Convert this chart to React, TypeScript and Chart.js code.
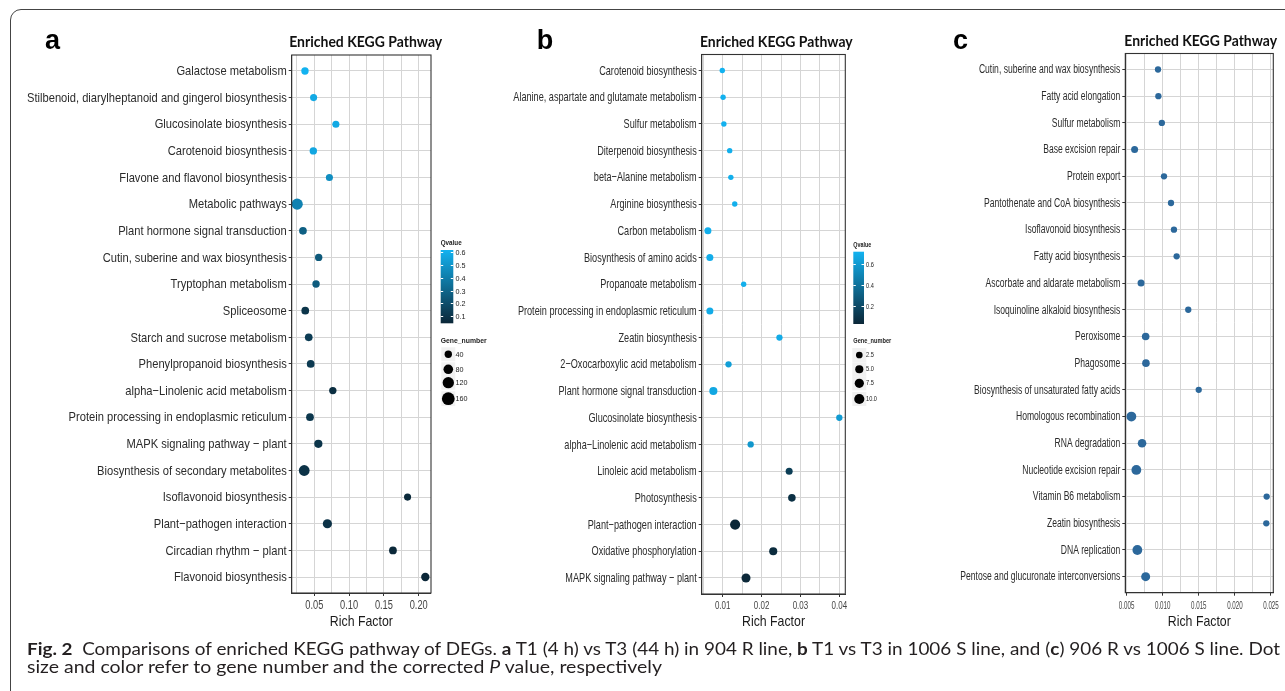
import React, { useEffect, useLayoutEffect, useRef } from 'react';
import { Chart, registerables } from 'chart.js';

Chart.register(...registerables);

const W = 1285;
const H = 691;
const SANS = '"Liberation Sans", Arial, sans-serif';
const GRID = '#d5d5d5';
const LOW = [11, 39, 56];
const HIGH = [18, 178, 240];
const C_COLOR = '#2c689b';

// ---------- Panel a ----------
const aPathways = [
  'Galactose metabolism',
  'Stilbenoid, diarylheptanoid and gingerol biosynthesis',
  'Glucosinolate biosynthesis',
  'Carotenoid biosynthesis',
  'Flavone and flavonol biosynthesis',
  'Metabolic pathways',
  'Plant hormone signal transduction',
  'Cutin, suberine and wax biosynthesis',
  'Tryptophan metabolism',
  'Spliceosome',
  'Starch and sucrose metabolism',
  'Phenylpropanoid biosynthesis',
  'alpha\u2212Linolenic acid metabolism',
  'Protein processing in endoplasmic reticulum',
  'MAPK signaling pathway \u2212 plant',
  'Biosynthesis of secondary metabolites',
  'Isoflavonoid biosynthesis',
  'Plant\u2212pathogen interaction',
  'Circadian rhythm \u2212 plant',
  'Flavonoid biosynthesis',
];
const aRichFactor = [0.0366, 0.049, 0.081, 0.0486, 0.0717, 0.0254, 0.0337, 0.0563, 0.0525, 0.037, 0.042, 0.0448, 0.0766, 0.0438, 0.0558, 0.0355, 0.184, 0.0688, 0.163, 0.2095];
const aGeneNumber = [40, 36, 36, 40, 36, 116, 45, 40, 40, 45, 45, 45, 40, 45, 53, 106, 36, 71, 46, 56];
const aQvalue = [0.618, 0.58, 0.58, 0.57, 0.47, 0.42, 0.28, 0.25, 0.26, 0.1, 0.13, 0.12, 0.07, 0.11, 0.1, 0.09, 0.05, 0.09, 0.05, 0.043];
const aMajorTicks = [0.05, 0.1, 0.15, 0.2];
const aMajorLabels = ['0.05', '0.10', '0.15', '0.20'];
const aMinorTicks = [0.025, 0.075, 0.125, 0.175];
const aQLegendTicks = [0.1, 0.2, 0.3, 0.4, 0.5, 0.6];
const aQLegendLabels = ['0.1', '0.2', '0.3', '0.4', '0.5', '0.6'];
const aGeneLegend = [40, 80, 120, 160];
const aGeneLegendLabels = ['40', '80', '120', '160'];

// ---------- Panel b ----------
const bPathways = [
  'Carotenoid biosynthesis',
  'Alanine, aspartate and glutamate metabolism',
  'Sulfur metabolism',
  'Diterpenoid biosynthesis',
  'beta\u2212Alanine metabolism',
  'Arginine biosynthesis',
  'Carbon metabolism',
  'Biosynthesis of amino acids',
  'Propanoate metabolism',
  'Protein processing in endoplasmic reticulum',
  'Zeatin biosynthesis',
  '2\u2212Oxocarboxylic acid metabolism',
  'Plant hormone signal transduction',
  'Glucosinolate biosynthesis',
  'alpha\u2212Linolenic acid metabolism',
  'Linoleic acid metabolism',
  'Photosynthesis',
  'Plant\u2212pathogen interaction',
  'Oxidative phosphorylation',
  'MAPK signaling pathway \u2212 plant',
];
const bRichFactor = [0.0099, 0.0101, 0.0103, 0.0118, 0.0121, 0.0131, 0.0062, 0.0067, 0.0154, 0.0067, 0.0246, 0.0115, 0.0076, 0.04, 0.0172, 0.0271, 0.0278, 0.0132, 0.023, 0.016];
const bGeneNumber = [1, 1, 1, 1, 1, 1, 3, 3, 1, 3, 2, 2, 5, 2, 2, 3, 4, 10, 5, 7];
const bQvalue = [0.714, 0.71, 0.71, 0.7, 0.7, 0.7, 0.7, 0.69, 0.7, 0.68, 0.68, 0.62, 0.66, 0.6, 0.58, 0.14, 0.07, 0.026, 0.05, 0.03];
const bMajorTicks = [0.01, 0.02, 0.03, 0.04];
const bMajorLabels = ['0.01', '0.02', '0.03', '0.04'];
const bMinorTicks = [0.005, 0.015, 0.025, 0.035];
const bQLegendTicks = [0.2, 0.4, 0.6];
const bQLegendLabels = ['0.2', '0.4', '0.6'];
const bGeneLegend = [2.5, 5, 7.5, 10];
const bGeneLegendLabels = ['2.5', '5.0', '7.5', '10.0'];

// ---------- Panel c ----------
const cPathways = [
  'Cutin, suberine and wax biosynthesis',
  'Fatty acid elongation',
  'Sulfur metabolism',
  'Base excision repair',
  'Protein export',
  'Pantothenate and CoA biosynthesis',
  'Isoflavonoid biosynthesis',
  'Fatty acid biosynthesis',
  'Ascorbate and aldarate metabolism',
  'Isoquinoline alkaloid biosynthesis',
  'Peroxisome',
  'Phagosome',
  'Biosynthesis of unsaturated fatty acids',
  'Homologous recombination',
  'RNA degradation',
  'Nucleotide excision repair',
  'Vitamin B6 metabolism',
  'Zeatin biosynthesis',
  'DNA replication',
  'Pentose and glucuronate interconversions',
];
const cRichFactor = [0.00935, 0.0094, 0.00988, 0.00611, 0.01018, 0.01115, 0.01156, 0.01193, 0.007, 0.01354, 0.00764, 0.00768, 0.01499, 0.00566, 0.00714, 0.00635, 0.0244, 0.02435, 0.00649, 0.00764];
const cGeneNumber = [2, 2, 2, 3, 2, 2, 2, 2, 3, 2, 4, 4, 2, 9, 6, 9, 2, 2, 9, 7];
const cMajorTicks = [0.005, 0.01, 0.015, 0.02, 0.025];
const cMajorLabels = ['0.005', '0.010', '0.015', '0.020', '0.025'];
const cMinorTicks = [0.0075, 0.0125, 0.0175, 0.0225];

// ---------- helpers ----------
function mixColor(t: number) {
  const k = Math.max(0, Math.min(1, t));
  const c = LOW.map((v, i) => Math.round(v + (HIGH[i] - v) * k));
  return `rgb(${c[0]},${c[1]},${c[2]})`;
}
const radiusA = (g: number) => 1.0 + 0.4266 * Math.sqrt(g);
const radiusB = (g: number) => 1.6 + 1.1 * Math.sqrt(g);

type Legend = {
  q: number[];
  qTicks: number[];
  qLabels: string[];
  qTitleY: number;
  qTitleW: number;
  barX: number;
  barW: number;
  barTop: number;
  barBottom: number;
  labelX: number;
  labelSize: number;
  labelSx: number;
  geneTitleY: number;
  geneTitleW: number;
  genes: number[];
  geneLabels: string[];
  geneYs: number[];
  keyX: number;
};

type Panel = {
  labels: string[];
  rich: number[];
  gene: number[];
  colors: string[];
  radius: (g: number) => number;
  xMin: number;
  xMax: number;
  majors: number[];
  majorLabels: string[];
  minors: number[];
  left: number;
  right: number;
  top: number;
  bottom: number;
  labelSize: number;
  labelRef: string;
  labelRefW: number;
  tickSize: number;
  tickRef: string;
  tickRefW: number;
  letter: string;
  letterX: number;
  titleCx: number;
  titleW: number;
  titleBase: number;
  legend?: Legend;
};

function drawScaled(ctx: CanvasRenderingContext2D, text: string, x: number, y: number, sx: number, align: 'left' | 'right' | 'center') {
  const w = ctx.measureText(text).width * sx;
  const x0 = align === 'right' ? x - w : align === 'center' ? x - w / 2 : x;
  ctx.save();
  ctx.translate(x0, y);
  ctx.scale(sx, 1);
  ctx.textAlign = 'left';
  ctx.fillText(text, 0, 0);
  ctx.restore();
}

function fitText(ctx: CanvasRenderingContext2D, text: string, x: number, y: number, w: number, align: 'left' | 'center') {
  const sx = w / ctx.measureText(text).width;
  drawScaled(ctx, text, x, y, sx, align);
}

function decorPlugin(p: Panel) {
  return {
    id: 'decor' + p.letter,
    afterDraw(chart: any) {
      const ctx: CanvasRenderingContext2D = chart.ctx;
      const a = chart.chartArea;
      const xs = chart.scales.x;
      const ys = chart.scales.y;
      ctx.save();
      // panel border
      ctx.strokeStyle = '#333';
      ctx.lineWidth = 1.1;
      ctx.strokeRect(a.left, a.top, a.right - a.left, a.bottom - a.top);

      // category labels (narrow face)
      ctx.fillStyle = '#2b2b2b';
      ctx.font = `${p.labelSize}px ${SANS}`;
      ctx.textBaseline = 'middle';
      const lsx = p.labelRefW / ctx.measureText(p.labelRef).width;
      p.labels.forEach((lab, i) => {
        drawScaled(ctx, lab, a.left - 5, ys.getPixelForValue(i) + 0.5, lsx, 'right');
      });

      // x tick labels
      ctx.fillStyle = '#444';
      ctx.font = `${p.tickSize}px ${SANS}`;
      ctx.textBaseline = 'alphabetic';
      const tsx = p.tickRefW / ctx.measureText(p.tickRef).width;
      p.majors.forEach((v, i) => {
        drawScaled(ctx, p.majorLabels[i], xs.getPixelForValue(v), 608.5, tsx, 'center');
      });

      // axis title
      ctx.fillStyle = '#1a1a1a';
      ctx.font = `15px ${SANS}`;
      fitText(ctx, 'Rich Factor', (a.left + a.right) / 2, 625.7, 63, 'center');

      // panel letter
      ctx.fillStyle = '#000';
      ctx.font = `bold 27px ${SANS}`;
      ctx.textAlign = 'left';
      ctx.fillText(p.letter, p.letterX, 49);

      // title
      ctx.font = 'bold 15px Lato, "Open Sans", sans-serif';
      ctx.fillStyle = '#111';
      fitText(ctx, 'Enriched KEGG Pathway', p.titleCx, p.titleBase, p.titleW, 'center');

      // legends
      const L = p.legend;
      if (L) {
        const lo = Math.min(...L.q);
        const hi = Math.max(...L.q);
        const yOf = (v: number) => L.barBottom - ((v - lo) / (hi - lo)) * (L.barBottom - L.barTop);
        ctx.textBaseline = 'middle';
        ctx.font = `bold 7.5px ${SANS}`;
        ctx.fillStyle = '#222';
        fitText(ctx, 'Qvalue', L.barX, L.qTitleY, L.qTitleW, 'left');
        const grad = ctx.createLinearGradient(0, L.barBottom, 0, L.barTop);
        grad.addColorStop(0, mixColor(0));
        grad.addColorStop(1, mixColor(1));
        ctx.fillStyle = grad;
        ctx.fillRect(L.barX, L.barTop, L.barW, L.barBottom - L.barTop);
        ctx.strokeStyle = '#fff';
        ctx.lineWidth = 1;
        ctx.font = `${L.labelSize}px ${SANS}`;
        L.qTicks.forEach((v, i) => {
          const y = Math.round(yOf(v)) + 0.5;
          ctx.beginPath();
          ctx.moveTo(L.barX, y);
          ctx.lineTo(L.barX + 2.5, y);
          ctx.moveTo(L.barX + L.barW - 2.5, y);
          ctx.lineTo(L.barX + L.barW, y);
          ctx.stroke();
          ctx.fillStyle = '#222';
          drawScaled(ctx, L.qLabels[i], L.labelX, y, L.labelSx, 'left');
        });
        ctx.font = `bold 7.5px ${SANS}`;
        ctx.fillStyle = '#222';
        fitText(ctx, 'Gene_number', L.barX, L.geneTitleY, L.geneTitleW, 'left');
        ctx.font = `${L.labelSize}px ${SANS}`;
        L.genes.forEach((g, i) => {
          const y = L.geneYs[i];
          const r = p.radius(g);
          ctx.fillStyle = '#f1f1f1';
          const hh = Math.max(7, r + 1);
          ctx.fillRect(L.keyX - 7, y - hh, 14, 2 * hh);
          ctx.beginPath();
          ctx.arc(L.keyX, y, r, 0, Math.PI * 2);
          ctx.fillStyle = '#000';
          ctx.fill();
          ctx.fillStyle = '#222';
          drawScaled(ctx, L.geneLabels[i], L.labelX, y, L.labelSx, 'left');
        });
      }
      ctx.restore();
    },
  };
}

function buildConfig(p: Panel): any {
  const n = p.labels.length;
  const allTicks = [...p.majors, ...p.minors].sort((x, y) => x - y);
  const isMajor = (v: number) => p.majors.some((m) => Math.abs(m - v) < 1e-9);
  return {
    type: 'bubble',
    data: {
      datasets: [
        {
          data: p.rich.map((x, i) => ({ x, y: i, r: p.radius(p.gene[i]) })),
          backgroundColor: p.colors,
          borderWidth: 0,
          hoverBorderWidth: 0,
          clip: false,
        },
      ],
    },
    options: {
      responsive: false,
      animation: false,
      devicePixelRatio: 1,
      events: [],
      layout: { padding: { left: 0, top: p.top, right: W - p.right, bottom: H - 630 } },
      plugins: { legend: { display: false }, tooltip: { enabled: false }, title: { display: false } },
      scales: {
        x: {
          type: 'linear',
          min: p.xMin,
          max: p.xMax,
          afterBuildTicks: (s: any) => {
            s.ticks = allTicks.map((v) => ({ value: v }));
          },
          afterFit: (s: any) => {
            s.height = 630 - p.bottom;
          },
          ticks: { display: false, autoSkip: false },
          grid: {
            color: GRID,
            lineWidth: 1,
            tickLength: 3,
            tickColor: (c: any) => (isMajor(c.tick.value) ? '#333' : 'rgba(0,0,0,0)'),
          },
          border: { display: true, color: '#333', width: 1 },
        },
        y: {
          type: 'linear',
          reverse: true,
          min: -0.6,
          max: n - 1 + 0.6,
          afterBuildTicks: (s: any) => {
            s.ticks = p.labels.map((_, i) => ({ value: i }));
          },
          afterFit: (s: any) => {
            s.width = p.left;
          },
          ticks: { display: false, autoSkip: false },
          grid: { color: GRID, lineWidth: 1, tickLength: 3, tickColor: '#333' },
          border: { display: true, color: '#333', width: 1 },
        },
      },
    },
    plugins: [decorPlugin(p)],
  };
}

const colorsFrom = (q: number[]) => {
  const lo = Math.min(...q);
  const hi = Math.max(...q);
  return q.map((v) => mixColor((v - lo) / (hi - lo)));
};

const panels: Panel[] = [
  {
    labels: aPathways,
    rich: aRichFactor,
    gene: aGeneNumber,
    colors: colorsFrom(aQvalue),
    radius: radiusA,
    xMin: 0.01753,
    xMax: 0.21767,
    majors: aMajorTicks,
    majorLabels: aMajorLabels,
    minors: aMinorTicks,
    left: 291.7,
    right: 431,
    top: 55,
    bottom: 593,
    labelSize: 13.5,
    labelRef: aPathways[1],
    labelRefW: 259.7,
    tickSize: 12.5,
    tickRef: '0.05',
    tickRefW: 18,
    letter: 'a',
    letterX: 45,
    titleCx: 365.7,
    titleW: 153,
    titleBase: 46.7,
    legend: {
      q: aQvalue,
      qTicks: aQLegendTicks,
      qLabels: aQLegendLabels,
      qTitleY: 243,
      qTitleW: 21,
      barX: 440.7,
      barW: 12.6,
      barTop: 250,
      barBottom: 323.3,
      labelX: 455.5,
      labelSize: 8,
      labelSx: 0.9,
      geneTitleY: 341,
      geneTitleW: 46,
      genes: aGeneLegend,
      geneLabels: aGeneLegendLabels,
      geneYs: [354.3, 369.3, 382.7, 398.7],
      keyX: 448.3,
    },
  },
  {
    labels: bPathways,
    rich: bRichFactor,
    gene: bGeneNumber,
    colors: colorsFrom(bQvalue),
    radius: radiusB,
    xMin: 0.0046,
    xMax: 0.04154,
    majors: bMajorTicks,
    majorLabels: bMajorLabels,
    minors: bMinorTicks,
    left: 701.7,
    right: 845.3,
    top: 54.5,
    bottom: 594,
    labelSize: 13,
    labelRef: bPathways[1],
    labelRefW: 183.4,
    tickSize: 11,
    tickRef: '0.01',
    tickRefW: 15.5,
    letter: 'b',
    letterX: 536.7,
    titleCx: 776.3,
    titleW: 152.7,
    titleBase: 47.3,
    legend: {
      q: bQvalue,
      qTicks: bQLegendTicks,
      qLabels: bQLegendLabels,
      qTitleY: 245,
      qTitleW: 18,
      barX: 853.3,
      barW: 10.7,
      barTop: 251.7,
      barBottom: 324,
      labelX: 866,
      labelSize: 7.5,
      labelSx: 0.75,
      geneTitleY: 341,
      geneTitleW: 38,
      genes: bGeneLegend,
      geneLabels: bGeneLegendLabels,
      geneYs: [355, 369.3, 383.3, 399],
      keyX: 859.3,
    },
  },
  {
    labels: cPathways,
    rich: cRichFactor,
    gene: cGeneNumber,
    colors: cPathways.map(() => C_COLOR),
    radius: radiusB,
    xMin: 0.00482,
    xMax: 0.02532,
    majors: cMajorTicks,
    majorLabels: cMajorLabels,
    minors: cMinorTicks,
    left: 1125.3,
    right: 1273.3,
    top: 53.5,
    bottom: 592.7,
    labelSize: 12,
    labelRef: cPathways[19],
    labelRefW: 160,
    tickSize: 10.5,
    tickRef: '0.010',
    tickRefW: 15.5,
    letter: 'c',
    letterX: 953,
    titleCx: 1200.7,
    titleW: 152.7,
    titleBase: 46,
  },
];

function FitLine({ top, left, width, children }: { top: number; left: number; width: number; children: React.ReactNode }) {
  const ref = useRef<HTMLDivElement>(null);
  useLayoutEffect(() => {
    const el = ref.current;
    if (!el) return;
    el.style.transform = 'none';
    const w = el.getBoundingClientRect().width;
    if (w > 0) el.style.transform = `scaleX(${width / w})`;
  }, [width]);
  return (
    <div
      ref={ref}
      style={{
        position: 'absolute',
        left,
        top,
        whiteSpace: 'nowrap',
        transformOrigin: '0 0',
        fontFamily: 'Lato, "Noto Sans", sans-serif',
        fontSize: 17,
        lineHeight: '20.4px',
        color: '#231f20',
      }}
    >
      {children}
    </div>
  );
}

function PanelChart({ panel }: { panel: Panel }) {
  const ref = useRef<HTMLCanvasElement>(null);
  useEffect(() => {
    if (!ref.current) return;
    const chart = new Chart(ref.current, buildConfig(panel));
    return () => chart.destroy();
  }, [panel]);
  return <canvas ref={ref} width={W} height={H} style={{ position: 'absolute', left: 0, top: 0, width: W, height: H }} />;
}

export default function App() {
  return (
    <div style={{ position: 'fixed', left: 0, top: 0, width: W, height: H, overflow: 'hidden', background: '#fff' }}>
      <div
        style={{
          position: 'absolute',
          left: 10,
          top: 9,
          width: 1400,
          height: 800,
          border: '1.2px solid #444',
          borderRadius: 11,
          boxSizing: 'border-box',
        }}
      />
      {panels.map((p) => (
        <PanelChart key={p.letter} panel={p} />
      ))}
      <FitLine top={638.5} left={26.7} width={1253}>
        <b>Fig. 2</b>&nbsp; Comparisons of enriched KEGG pathway of DEGs. <b>a</b> T1 (4 h) vs T3 (44 h) in 904 R line, <b>b</b> T1 vs T3 in
        1006 S line, and (<b>c</b>) 906 R vs 1006 S line. Dot
      </FitLine>
      <FitLine top={657} left={26.7} width={635}>
        size and color refer to gene number and the corrected <i>P</i> value, respectively
      </FitLine>
    </div>
  );
}
